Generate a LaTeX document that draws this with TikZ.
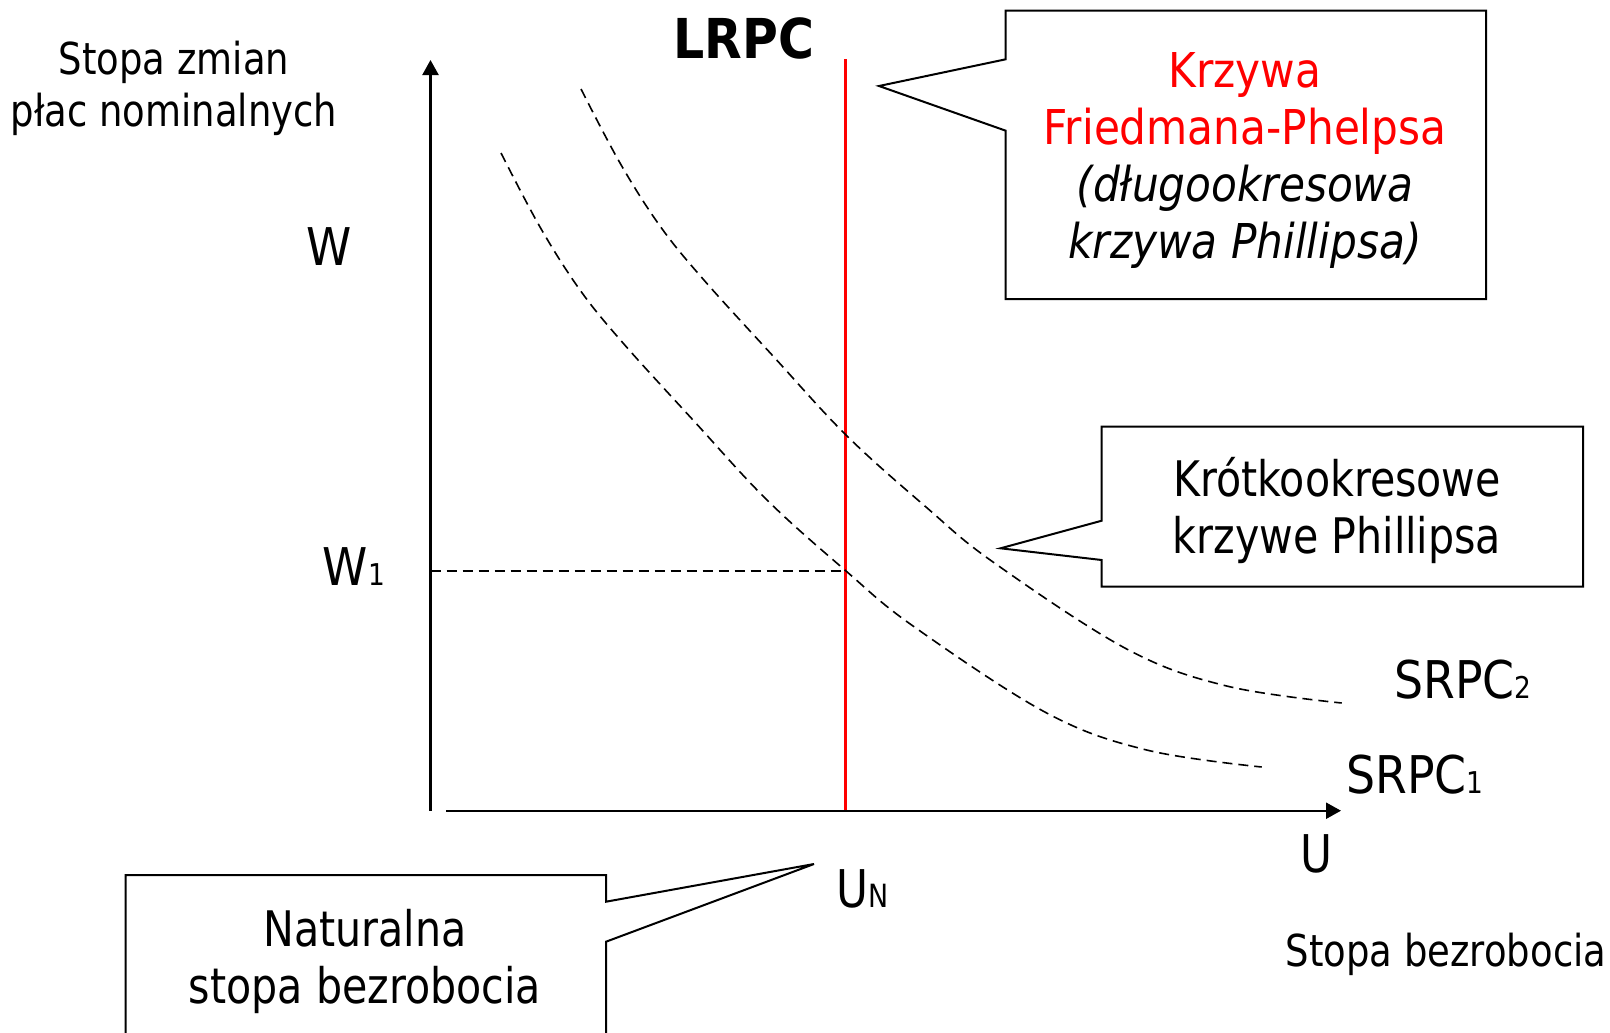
\documentclass[tikz,border=0pt]{standalone}
\usepackage{fontspec}
\setmainfont{DejaVu Sans}[FakeStretch=0.84]
\newfontfamily\lrpcfam{DejaVu Sans}[FakeStretch=0.89]
\newfontfamily\widefam{DejaVu Sans}[FakeStretch=0.88]
\usetikzlibrary{arrows.meta}
\newcommand\fsz[2]{\fontsize{#1bp}{#2bp}\selectfont}
\begin{document}
\begin{tikzpicture}[x=1bp,y=-1bp,
  lbl/.style={inner sep=0pt, anchor=base, align=center},
  axisline/.style={line width=2.3bp, -{Triangle[length=15bp,width=16bp]}},
  curveline/.style={line width=1.6bp, dash pattern=on 10bp off 6bp},
  calloutline/.style={line width=2bp, line join=miter},
  lrpcline/.style={draw={rgb,255:red,255;green,0;blue,0}, line width=3.4bp}]
\useasboundingbox (0,0) rectangle (1610,1032);
\clip (0,0) rectangle (1610,1032);
% axes
\coordinate (O) at (430.5,810.7);
\coordinate (ytop) at (430.5,60);
\coordinate (xstart) at (446,810.7);
\coordinate (xend) at (1341,810.7);
\draw[axisline] (O) -- (ytop);
\draw[axisline] (xstart) -- (xend);
% LRPC
\coordinate (Ltop) at (845.7,59);
\coordinate (Lbot) at (845.7,810);
\draw[lrpcline] (Ltop) -- (Lbot);
% W1 level
\coordinate (w1axis) at (430.5,570.7);
\coordinate (w1pt) at (845.7,570.7);
\draw[curveline, line width=2bp] (w1axis) -- (w1pt);
% SRPC curves
\def\srpcpath{plot[smooth,tension=0.6] coordinates {(501,153) (540,227) (580,290) (623,343) (693,420) (767,500) (846,571) (913,626) (1046.7,713) (1146.7,750) (1261.7,767)}}
\draw[curveline] \srpcpath;
\draw[curveline, shift={(80,-64)}] \srpcpath;
% callouts
\coordinate (fptip) at (879,86);
\coordinate (srtip) at (1000.5,548.3);
\coordinate (nattip) at (814,864);
\draw[calloutline] (1005.7,10.7) -- (1486,10.7) -- (1486,299) -- (1005.7,299) -- (1005.7,130.7) -- (fptip) -- (1005.7,59.3) -- cycle;
\draw[calloutline] (1101.7,426.7) -- (1583,426.7) -- (1583,586.7) -- (1101.7,586.7) -- (1101.7,560) -- (srtip) -- (1101.7,520.7) -- cycle;
\draw[calloutline] (125.5,875) -- (606,875) -- (606,901.7) -- (nattip) -- (606,941.7) -- (606,1045) -- (125.5,1045) -- cycle;
% labels
\node[lbl,font=\fsz{44}{52}] (ylab) at (174,126) {Stopa zmian\\płac nominalnych};
\node[lbl,font=\widefam\fsz{52}{60}] (W) at (329,265) {W};
\node[lbl,anchor=base west,font=\widefam\fsz{52}{60}] (W1) at (322,585) {W\kern1.5bp{\fsz{30}{30}1}};
\node[lbl,font=\lrpcfam\bfseries\fsz{55}{60}] (lrpc) at (744,58.3) {LRPC};
\node[lbl,font=\widefam\fsz{48}{57}] (fp) at (1245,258.3) {\color{red}Krzywa\\\color{red}Friedmana-Phelpsa\\\itshape (długookresowa\\\itshape krzywa Phillipsa)};
\node[lbl,font=\fsz{49}{57}] (srbox) at (1337,553.3) {Krótkookresowe\\krzywe Phillipsa};
\node[lbl,font=\fsz{49}{57}] (nat) at (365,1003) {Naturalna\\stopa bezrobocia};
\node[lbl,anchor=base west,font=\widefam\fsz{52}{60}] (s2) at (1394,698) {SRPC{\fsz{30}{30}2}};
\node[lbl,anchor=base west,font=\widefam\fsz{52}{60}] (s1) at (1346,793.3) {SRPC{\fsz{30}{30}1}};
\node[lbl,font=\fsz{52}{60}] (U) at (1316,872) {U};
\node[lbl,anchor=base west,font=\fsz{52}{60}] (UN) at (836,907) {U{\fsz{32}{32}N}};
\node[lbl,font=\fsz{44}{52}] (xlab) at (1446,966) {Stopa bezrobocia};
\end{tikzpicture}
\end{document}
